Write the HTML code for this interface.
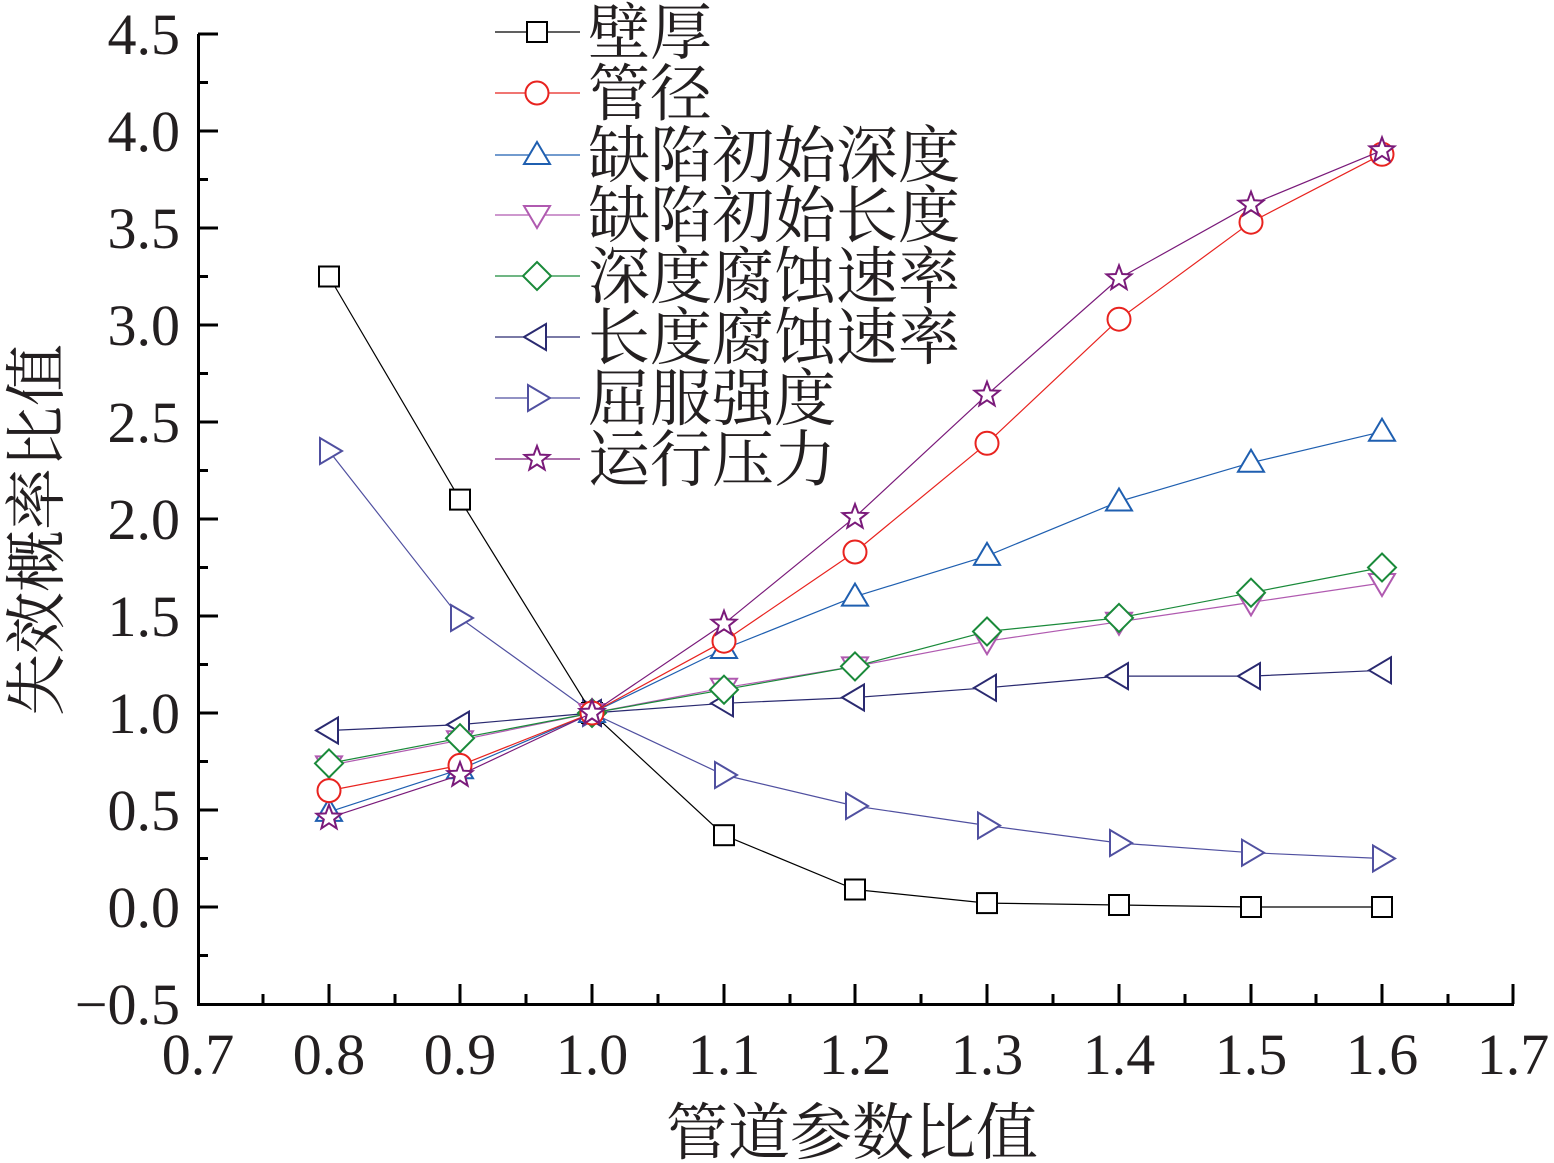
<!DOCTYPE html>
<html><head><meta charset="utf-8"><style>
html,body{margin:0;padding:0;background:#fff;}
svg{display:block;}
.t{font-family:"Liberation Serif","Noto Serif CJK SC",serif;font-size:58px;fill:#231f20;}
.c{font-family:"Liberation Serif","Noto Serif CJK SC",serif;font-size:62px;fill:#231f20;}
</style></head><body>
<svg width="1554" height="1163" viewBox="0 0 1554 1163" xmlns="http://www.w3.org/2000/svg">
<defs>
<marker id="sq" markerUnits="userSpaceOnUse" markerWidth="30" markerHeight="30" refX="15" refY="15" overflow="visible"><rect x="5" y="5" width="20" height="20" fill="#fff" stroke="#000" stroke-width="2"/></marker>
<marker id="ci" markerUnits="userSpaceOnUse" markerWidth="30" markerHeight="30" refX="15" refY="15" overflow="visible"><circle cx="15" cy="15" r="11.5" fill="#fff" stroke="#e8231f" stroke-width="2"/></marker>
<marker id="tu" markerUnits="userSpaceOnUse" markerWidth="30" markerHeight="30" refX="15" refY="15" overflow="visible"><polygon points="15,2 28,24 2,24" fill="#fff" stroke="#1f5fb0" stroke-width="2"/></marker>
<marker id="td" markerUnits="userSpaceOnUse" markerWidth="30" markerHeight="30" refX="15" refY="15" overflow="visible"><polygon points="15,28 28,6 2,6" fill="#fff" stroke="#b05ab0" stroke-width="2"/></marker>
<marker id="di" markerUnits="userSpaceOnUse" markerWidth="30" markerHeight="30" refX="15" refY="15" overflow="visible"><polygon points="15,1 29,15 15,29 1,15" fill="#fff" stroke="#1a8a3a" stroke-width="2"/></marker>
<marker id="tl" markerUnits="userSpaceOnUse" markerWidth="30" markerHeight="30" refX="15" refY="15" overflow="visible"><polygon points="2,15 24,2 24,28" fill="#fff" stroke="#2a2a70" stroke-width="2"/></marker>
<marker id="tr" markerUnits="userSpaceOnUse" markerWidth="30" markerHeight="30" refX="15" refY="15" overflow="visible"><polygon points="28,15 6,2 6,28" fill="#fff" stroke="#5050a0" stroke-width="2"/></marker>
<marker id="st" markerUnits="userSpaceOnUse" markerWidth="30" markerHeight="30" refX="15" refY="15" overflow="visible"><polygon points="15,2 18.2,10.6 27.4,11 20.2,16.7 22.6,25.5 15,20.5 7.4,25.5 9.8,16.7 2.6,11 11.8,10.6" fill="#fff" stroke="#7a1a7a" stroke-width="2"/></marker>
</defs>

<g stroke="#000" fill="none">
<path d="M198.5,34 V1004.5 H1514" stroke-width="3"/>
<path stroke-width="3" d="M198,34h20M198,131h20M198,228h20M198,325h20M198,422h20M198,519h20M198,616h20M198,713h20M198,810h20M198,907h20
M198,82.5h10M198,179.5h10M198,276.5h10M198,373.5h10M198,470.5h10M198,567.5h10M198,664.5h10M198,761.5h10M198,858.5h10M198,955.5h10
M329,1004v-20M460,1004v-20M592,1004v-20M724,1004v-20M855,1004v-20M987,1004v-20M1119,1004v-20M1251,1004v-20M1382,1004v-20M1513,1004v-20
M263,1004v-10M395,1004v-10M526,1004v-10M658,1004v-10M790,1004v-10M921,1004v-10M1053,1004v-10M1185,1004v-10M1316,1004v-10M1448,1004v-10"/>
</g>

<g class="t" text-anchor="end">
<text x="180" y="54">4.5</text><text x="180" y="151">4.0</text><text x="180" y="248">3.5</text><text x="180" y="345">3.0</text>
<text x="180" y="442">2.5</text><text x="180" y="539">2.0</text><text x="180" y="636">1.5</text><text x="180" y="733">1.0</text>
<text x="180" y="830">0.5</text><text x="180" y="927">0.0</text><text x="180" y="1024">−0.5</text>
</g>
<g class="t" text-anchor="middle">
<text x="198" y="1074">0.7</text><text x="329" y="1074">0.8</text><text x="460" y="1074">0.9</text><text x="592" y="1074">1.0</text>
<text x="724" y="1074">1.1</text><text x="855" y="1074">1.2</text><text x="987" y="1074">1.3</text><text x="1119" y="1074">1.4</text>
<text x="1251" y="1074">1.5</text><text x="1382" y="1074">1.6</text><text x="1513" y="1074">1.7</text>
</g>
<text class="c" x="852" y="1154" text-anchor="middle">管道参数比值</text>
<text class="c" transform="translate(58,530) rotate(-90)" text-anchor="middle">失效概率比值</text>

<g fill="none" stroke-width="1.2">
<polyline stroke="#5050a0" marker-start="url(#tr)" marker-mid="url(#tr)" marker-end="url(#tr)" points="329,451 460,618 592,713 724,775 855,806 987,825.5 1119,843 1251,852.7 1382,858.5"/>
<polyline stroke="#000" marker-start="url(#sq)" marker-mid="url(#sq)" marker-end="url(#sq)" points="329,276.5 460,499.6 592,713 724,835.2 855,889.5 987,903.1 1119,905 1251,907 1382,907"/>
<polyline stroke="#2a2a70" marker-start="url(#tl)" marker-mid="url(#tl)" marker-end="url(#tl)" points="329,730.5 460,724.6 592,713 724,703.3 855,697.5 987,687.8 1119,676.1 1251,676.1 1382,670.3"/>
<polyline stroke="#b05ab0" marker-start="url(#td)" marker-mid="url(#td)" marker-end="url(#td)" points="329,765.4 460,740.2 592,713 724,687.8 855,666.4 987,641.2 1119,621.8 1251,602.4 1382,583"/>
<polyline stroke="#1a8a3a" marker-start="url(#di)" marker-mid="url(#di)" marker-end="url(#di)" points="329,763.4 460,738.2 592,713 724,689.7 855,666.4 987,631.5 1119,617.9 1251,592.7 1382,567.5"/>
<polyline stroke="#1f5fb0" marker-start="url(#tu)" marker-mid="url(#tu)" marker-end="url(#tu)" points="329,811.9 460,769.3 592,713 724,649 855,596.6 987,555.9 1119,501.5 1251,462.7 1382,431.7"/>
<polyline stroke="#e8231f" marker-start="url(#ci)" marker-mid="url(#ci)" marker-end="url(#ci)" points="329,790.6 460,765.4 592,713 724,641.2 855,552 987,443.3 1119,319.2 1251,222.2 1382,154.3"/>
<polyline stroke="#7a1a7a" marker-start="url(#st)" marker-mid="url(#st)" marker-end="url(#st)" points="329,817.8 460,775.1 592,713 724,623.8 855,517.1 987,394.8 1119,278.4 1251,204.7 1382,150.4"/>
</g>

<g fill="none" stroke-width="1.2">
<polyline stroke="#000" marker-mid="url(#sq)" points="495,32 537,32 580,32"/>
<polyline stroke="#e8231f" marker-mid="url(#ci)" points="495,93 537,93 580,93"/>
<polyline stroke="#1f5fb0" marker-mid="url(#tu)" points="495,155 537,155 580,155"/>
<polyline stroke="#b05ab0" marker-mid="url(#td)" points="495,215 537,215 580,215"/>
<polyline stroke="#1a8a3a" marker-mid="url(#di)" points="495,276 537,276 580,276"/>
<polyline stroke="#2a2a70" marker-mid="url(#tl)" points="495,337 537,337 580,337"/>
<polyline stroke="#5050a0" marker-mid="url(#tr)" points="495,398 537,398 580,398"/>
<polyline stroke="#7a1a7a" marker-mid="url(#st)" points="495,459 537,459 580,459"/>
</g>
<g class="c">
<text x="588" y="54">壁厚</text>
<text x="588" y="115">管径</text>
<text x="588" y="177">缺陷初始深度</text>
<text x="588" y="237">缺陷初始长度</text>
<text x="588" y="298">深度腐蚀速率</text>
<text x="588" y="359">长度腐蚀速率</text>
<text x="588" y="420">屈服强度</text>
<text x="588" y="481">运行压力</text>
</g>
</svg>
</body></html>
